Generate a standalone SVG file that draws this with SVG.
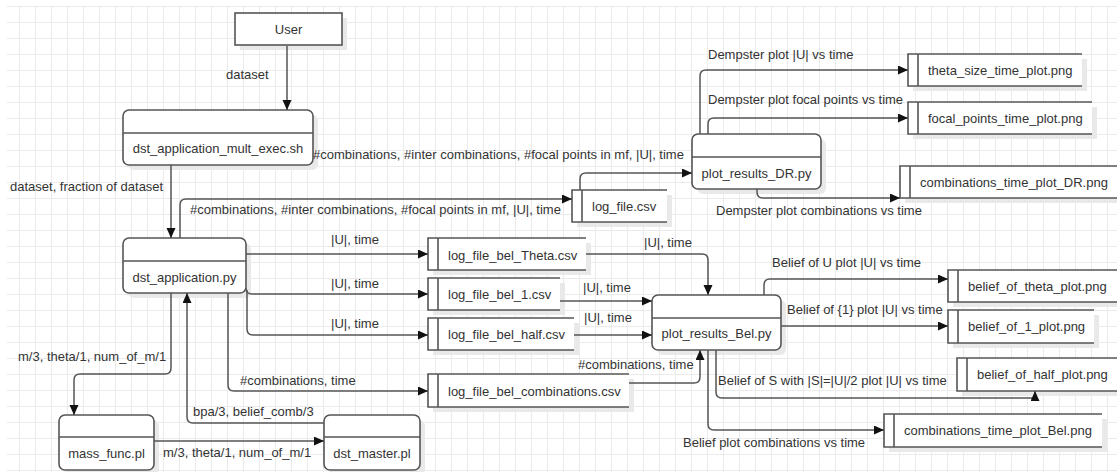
<svg xmlns="http://www.w3.org/2000/svg" width="1117" height="472" viewBox="0 0 1117 472">
<defs>
<pattern id="grid" patternUnits="userSpaceOnUse" x="3" y="6" width="16" height="16">
<path d="M0.5,0 V16 M0,0.5 H16" fill="none" stroke="#ebebeb" stroke-width="1"/>
</pattern>
<marker id="arr" markerUnits="userSpaceOnUse" markerWidth="11" markerHeight="10" refX="10" refY="4.5" orient="auto">
<path d="M0,0 L10,4.5 L0,9 z" fill="#111"/>
</marker>
</defs>
<style>
.proc{fill:#fff;stroke:#555;stroke-width:1.6}
.shadow{fill:#e9e9e9;stroke:none}
.store{fill:#fff;stroke:none}
.storeline{fill:none;stroke:#555;stroke-width:1.6}
.conn{fill:none;stroke:#555;stroke-width:1.5;marker-end:url(#arr)}
text{font-family:"Liberation Sans",Arial,sans-serif;font-size:13px;fill:#333}
.c{text-anchor:middle}
</style>
<rect width="1117" height="472" fill="#fff"/>
<rect x="7" y="6" width="1110" height="466" fill="url(#grid)"/>

<g id="user">
<rect class="shadow" x="240" y="18" width="107" height="32"/>
<rect class="proc" x="235" y="13" width="107" height="32"/>
<text class="c" x="288.5" y="34">User</text>
</g>

<g id="dst_application_mult_exec">
<rect class="shadow" x="128" y="115" width="190" height="55" rx="6"/>
<rect class="proc" x="123" y="110" width="190" height="55" rx="6"/>
<path class="storeline" d="M123,133 H313"/>
<text class="c" x="218" y="153">dst_application_mult_exec.sh</text>
</g>

<g id="dst_application">
<rect class="shadow" x="128" y="243" width="123" height="55" rx="6"/>
<rect class="proc" x="123" y="238" width="123" height="55" rx="6"/>
<path class="storeline" d="M123,261 H246"/>
<text class="c" x="184.5" y="282">dst_application.py</text>
</g>

<g id="mass_func">
<rect class="shadow" x="64" y="420" width="95" height="55" rx="6"/>
<rect class="proc" x="59" y="415" width="95" height="55" rx="6"/>
<path class="storeline" d="M59,437 H154"/>
<text class="c" x="106.5" y="458">mass_func.pl</text>
</g>

<g id="dst_master">
<rect class="shadow" x="329" y="420" width="96" height="55" rx="6"/>
<rect class="proc" x="324" y="415" width="96" height="55" rx="6"/>
<path class="storeline" d="M324,437 H420"/>
<text class="c" x="372" y="458">dst_master.pl</text>
</g>

<g id="plot_results_DR">
<rect class="shadow" x="697" y="139" width="129" height="55" rx="6"/>
<rect class="proc" x="692" y="134" width="129" height="55" rx="6"/>
<path class="storeline" d="M692,157 H821"/>
<text class="c" x="756.5" y="178">plot_results_DR.py</text>
</g>

<g id="plot_results_Bel">
<rect class="shadow" x="657" y="300" width="129" height="55" rx="6"/>
<rect class="proc" x="652" y="295" width="129" height="55" rx="6"/>
<path class="storeline" d="M652,318 H781"/>
<text class="c" x="716.5" y="338">plot_results_Bel.py</text>
</g>

<g id="log_file">
<rect class="shadow" x="577" y="195" width="95" height="32"/>
<rect class="store" x="572" y="190" width="95" height="32"/>
<path class="storeline" d="M667,190 H572 V222 H667 M582,190 V222"/>
<text x="592" y="211">log_file.csv</text>
</g>

<g id="theta_size_time_plot">
<rect class="shadow" x="913" y="59" width="174" height="32"/>
<rect class="store" x="908" y="54" width="174" height="32"/>
<path class="storeline" d="M1082,54 H908 V86 H1082 M918,54 V86"/>
<text x="928" y="75">theta_size_time_plot.png</text>
</g>

<g id="focal_points_time_plot">
<rect class="shadow" x="913" y="107" width="184" height="32"/>
<rect class="store" x="908" y="102" width="184" height="32"/>
<path class="storeline" d="M1092,102 H908 V134 H1092 M918,102 V134"/>
<text x="928" y="123">focal_points_time_plot.png</text>
</g>

<g id="combinations_time_plot_DR">
<rect class="shadow" x="905" y="171" width="217" height="32"/>
<rect class="store" x="900" y="166" width="217" height="32"/>
<path class="storeline" d="M1117,166 H900 V198 H1117 M910,166 V198"/>
<text x="920" y="187">combinations_time_plot_DR.png</text>
</g>

<g id="log_file_bel_Theta">
<rect class="shadow" x="433" y="243" width="158" height="32"/>
<rect class="store" x="428" y="238" width="158" height="32"/>
<path class="storeline" d="M586,238 H428 V270 H586 M438,238 V270"/>
<text x="448" y="260">log_file_bel_Theta.csv</text>
</g>

<g id="log_file_bel_1">
<rect class="shadow" x="433" y="283" width="132" height="32"/>
<rect class="store" x="428" y="278" width="132" height="32"/>
<path class="storeline" d="M560,278 H428 V310 H560 M438,278 V310"/>
<text x="448" y="299">log_file_bel_1.csv</text>
</g>

<g id="log_file_bel_half">
<rect class="shadow" x="433" y="323" width="146" height="32"/>
<rect class="store" x="428" y="318" width="146" height="32"/>
<path class="storeline" d="M574,318 H428 V350 H574 M438,318 V350"/>
<text x="448" y="339">log_file_bel_half.csv</text>
</g>

<g id="log_file_bel_combinations">
<rect class="shadow" x="433" y="379" width="201" height="33"/>
<rect class="store" x="428" y="374" width="201" height="33"/>
<path class="storeline" d="M629,374 H428 V407 H629 M438,374 V407"/>
<text x="448" y="396">log_file_bel_combinations.csv</text>
</g>

<g id="belief_of_theta_plot">
<rect class="shadow" x="953" y="275" width="169" height="32"/>
<rect class="store" x="948" y="270" width="169" height="32"/>
<path class="storeline" d="M1117,270 H948 V302 H1117 M958,270 V302"/>
<text x="968" y="291">belief_of_theta_plot.png</text>
</g>

<g id="belief_of_1_plot">
<rect class="shadow" x="953" y="315" width="146" height="33"/>
<rect class="store" x="948" y="310" width="146" height="33"/>
<path class="storeline" d="M1094,310 H948 V343 H1094 M958,310 V343"/>
<text x="968" y="331">belief_of_1_plot.png</text>
</g>

<g id="belief_of_half_plot">
<rect class="shadow" x="962" y="363" width="160" height="33"/>
<rect class="store" x="957" y="358" width="160" height="33"/>
<path class="storeline" d="M1117,358 H957 V391 H1117 M967,358 V391"/>
<text x="977" y="379">belief_of_half_plot.png</text>
</g>

<g id="combinations_time_plot_Bel">
<rect class="shadow" x="889" y="419" width="218" height="33"/>
<rect class="store" x="884" y="414" width="218" height="33"/>
<path class="storeline" d="M1102,414 H884 V447 H1102 M894,414 V447"/>
<text x="904" y="435">combinations_time_plot_Bel.png</text>
</g>

<g id="connectors">
<path class="conn" d="M287,46 L287,110"/>
<text x="226" y="79">dataset</text>
<path class="conn" d="M171,165 L171,238"/>
<text x="10" y="191">dataset, fraction of dataset</text>
<path class="conn" d="M180,238 L180,205 Q180,199 186,199 L572,199"/>
<text x="190" y="214">#combinations, #inter combinations, #focal points in mf, |U|, time</text>
<path class="conn" d="M580,190 L580,179 Q580,173 586,173 L692,173"/>
<text x="313" y="159">#combinations, #inter combinations, #focal points in mf, |U|, time</text>
<path class="conn" d="M700,134 L700,76 Q700,70 706,70 L908,70"/>
<text x="708" y="59">Dempster plot |U| vs time</text>
<path class="conn" d="M708,134 L708,124 Q708,118 714,118 L908,118"/>
<text x="708" y="104">Dempster plot focal points vs time</text>
<path class="conn" d="M757,189 L757,192 Q757,198 763,198 L900,198"/>
<text x="716" y="215">Dempster plot combinations vs time</text>

<path class="conn" d="M246,254 L428,254"/>
<text x="331" y="244">|U|, time</text>
<path class="conn" d="M246,288 Q246,294 252,294 L428,294"/>
<text x="331" y="288">|U|, time</text>
<path class="conn" d="M247,290 L247,329 Q247,335 253,335 L428,335"/>
<text x="331" y="328">|U|, time</text>
<path class="conn" d="M228,293 L228,385 Q228,391 234,391 L428,391"/>
<text x="240" y="385">#combinations, time</text>
<path class="conn" d="M171,293 L171,368 Q171,374 165,374 L80,374 Q74,374 74,380 L74,415"/>
<text x="18" y="361">m/3, theta/1, num_of_m/1</text>
<path class="conn" d="M324,423 L193,423 Q187,423 187,417 L187,293"/>
<text x="193" y="416">bpa/3, belief_comb/3</text>
<path class="conn" d="M154,441 L324,441"/>
<text x="163" y="457">m/3, theta/1, num_of_m/1</text>

<path class="conn" d="M586,254 L702,254 Q708,254 708,260 L708,295"/>
<text x="644" y="247">|U|, time</text>
<path class="conn" d="M560,301 L652,301"/>
<text x="583" y="292">|U|, time</text>
<path class="conn" d="M574,335 L652,335"/>
<text x="584" y="322">|U|, time</text>
<path class="conn" d="M629,383 L694,383 Q700,383 700,377 L700,350"/>
<text x="578" y="369">#combinations, time</text>

<path class="conn" d="M764,295 L764,285 Q764,279 770,279 L948,279"/>
<text x="772" y="267">Belief of U plot |U| vs time</text>
<path class="conn" d="M781,326 L948,326"/>
<text x="787" y="314">Belief of {1} plot |U| vs time</text>
<path class="conn" d="M716,350 L716,392 Q716,398 722,398 L1035,398 L1035,391"/>
<text x="718" y="385">Belief of S with |S|=|U|/2 plot |U| vs time</text>
<path class="conn" d="M708,350 L708,424 Q708,430 714,430 L884,430"/>
<text x="683" y="447">Belief plot combinations vs time</text>
</g>
</svg>
